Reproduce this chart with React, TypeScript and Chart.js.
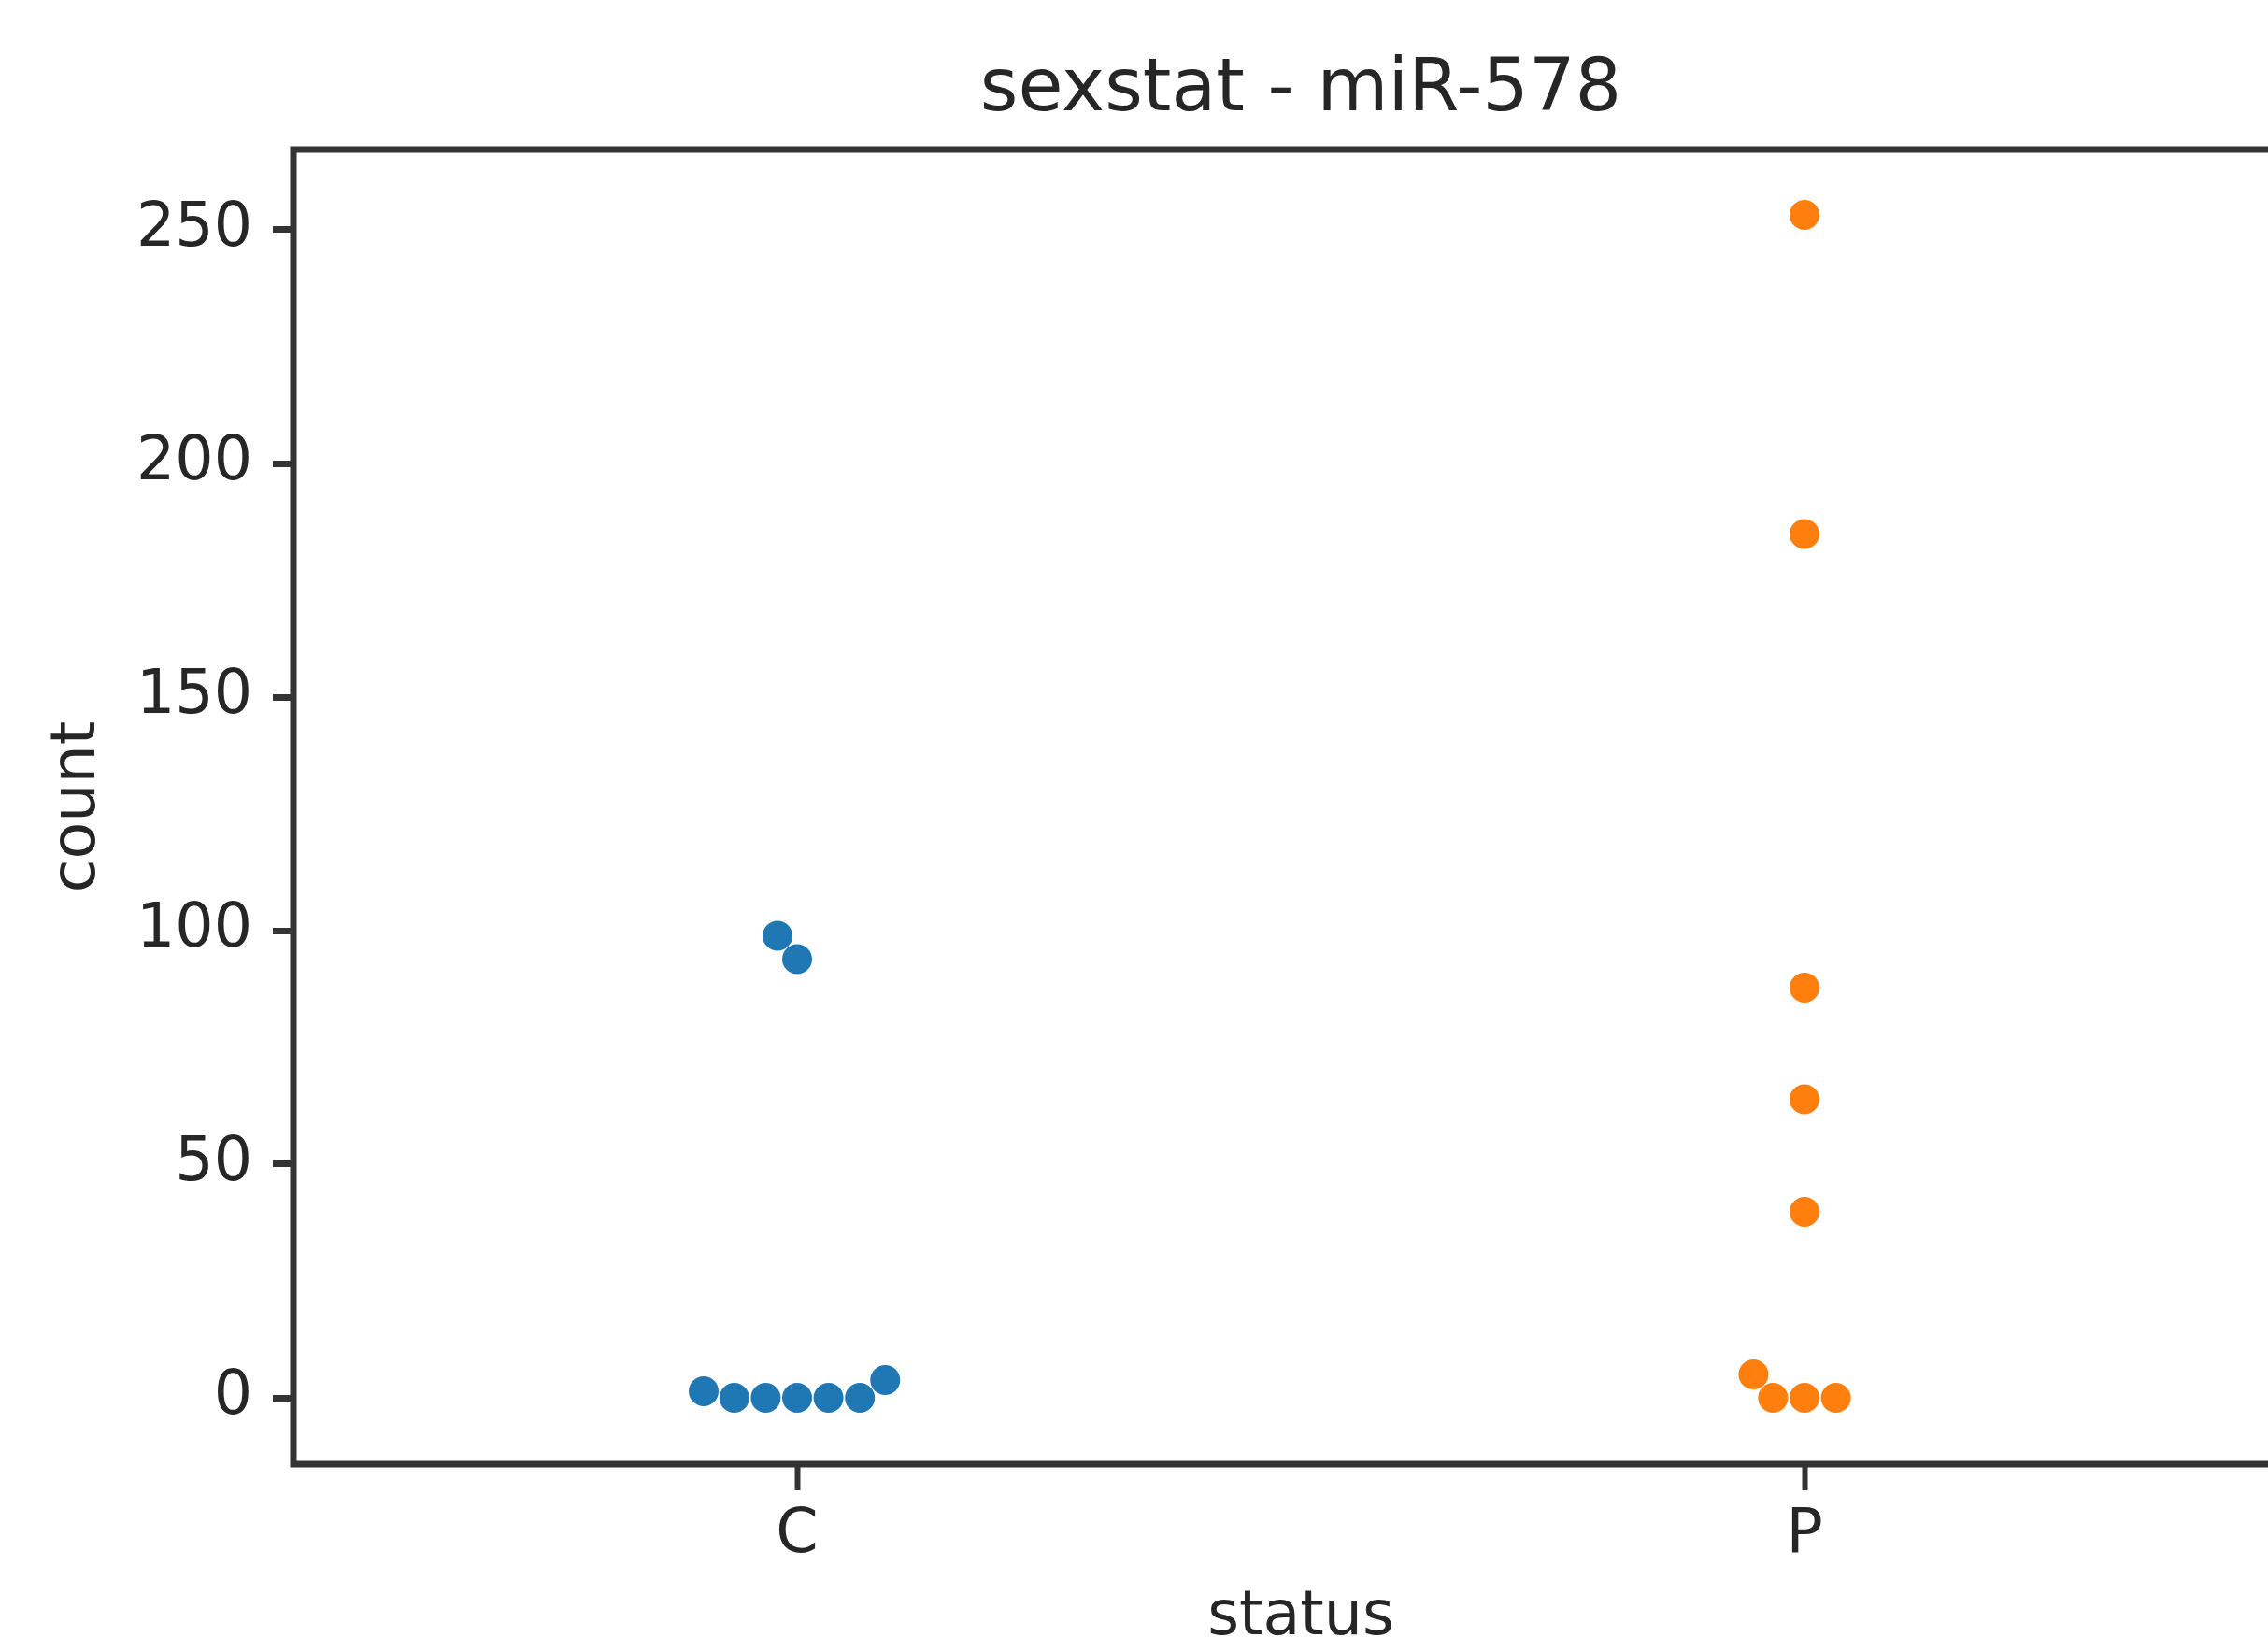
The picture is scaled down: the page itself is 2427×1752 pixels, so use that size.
import React, { useEffect, useRef } from 'react';
import Chart from 'chart.js/auto';

const TITLE = 'sexstat - miR-578';
const X_LABEL = 'status';
const Y_LABEL = 'count';
const CATEGORIES = ['C', 'P'];
const C_VALUES = [0, 0, 0, 0, 0, 1.4, 3.8, 93.9, 98.9];
const P_VALUES = [0, 0, 0, 5.0, 39.8, 63.9, 87.8, 184.9, 253.2];
const Y_TICKS = [0, 50, 100, 150, 200, 250];
const COLORS = ['#1f77b4', '#ff7f0e'];

const FONT = 'DejaVu Sans';
const TEXT = '#262626';
const SPINE = '#333333';
const RADIUS = 16;

// seaborn-style beeswarm, in pixel space (ties resolved to the left)
function beeswarm(ysPx: number[], midline: number, r: number): number[] {
  const us = ysPx.map((y) => -y);
  const order = us.map((_, i) => i).sort((a, b) => us[a] - us[b]);
  const placed: { x: number; u: number }[] = [];
  const xs: number[] = new Array(ysPx.length).fill(midline);
  for (const idx of order) {
    const u = us[idx];
    if (placed.length === 0) {
      placed.push({ x: midline, u });
      xs[idx] = midline;
      continue;
    }
    const neighbors: { x: number; u: number }[] = [];
    for (let k = placed.length - 1; k >= 0; k--) {
      if (u - placed[k].u < 2 * r) neighbors.push(placed[k]);
      else break;
    }
    const cands: number[] = [midline];
    for (const n of neighbors) {
      const dy = u - n.u;
      const dx = Math.sqrt(Math.max(4 * r * r - dy * dy, 0)) * 1.05;
      cands.push(n.x - dx, n.x + dx);
    }
    const sorted = cands
      .map((c, i) => ({ c, i }))
      .sort((a, b) => {
        const d = Math.abs(a.c - midline) - Math.abs(b.c - midline);
        if (Math.abs(d) > 1e-6) return d;
        if (Math.abs(a.c - b.c) > 1e-6) return a.c - b.c;
        return a.i - b.i;
      })
      .map((o) => o.c);
    let chosen = sorted[sorted.length - 1];
    for (const c of sorted) {
      let ok = true;
      for (const n of neighbors) {
        const dx = n.x - c;
        const dy = n.u - u;
        if (dx * dx + dy * dy < 4 * r * r - 1e-6) {
          ok = false;
          break;
        }
      }
      if (ok) {
        chosen = c;
        break;
      }
    }
    placed.push({ x: chosen, u });
    xs[idx] = chosen;
  }
  return xs;
}

const framePlugin = {
  id: 'frame',
  afterDatasetsDraw(chart: any) {
    const { ctx, chartArea } = chart;
    ctx.save();
    ctx.strokeStyle = SPINE;
    ctx.lineWidth = 7;
    ctx.strokeRect(chartArea.left, chartArea.top, chartArea.right - chartArea.left, chartArea.bottom - chartArea.top);
    ctx.restore();
  },
};

export default function App() {
  const ref = useRef<HTMLCanvasElement | null>(null);

  useEffect(() => {
    if (!ref.current) return;
    const series = [C_VALUES, P_VALUES];
    const chart = new Chart(ref.current, {
      type: 'scatter',
      data: {
        datasets: series.map((vals, ci) => ({
          label: CATEGORIES[ci],
          data: vals.map((v) => ({ x: ci, y: v })),
          backgroundColor: COLORS[ci],
          borderWidth: 0,
          pointRadius: RADIUS,
          pointHoverRadius: RADIUS,
        })),
      },
      plugins: [framePlugin],
      options: {
        animation: false,
        responsive: false,
        events: [],
        layout: { padding: { left: 0, right: 20, top: 0, bottom: 0 } },
        plugins: {
          legend: { display: false },
          tooltip: { enabled: false },
          title: {
            display: true,
            text: TITLE,
            fullSize: false,
            color: TEXT,
            font: { family: FONT, size: 78, weight: 'normal', lineHeight: 1.2 },
            padding: { top: 51, bottom: 15.4 },
          },
        },
        scales: {
          x: {
            type: 'linear',
            min: -0.5,
            max: 1.5,
            afterFit: (s: any) => {
              s.height = 233;
            },
            afterBuildTicks: (s: any) => {
              s.ticks = CATEGORIES.map((_, i) => ({ value: i }));
            },
            ticks: {
              color: TEXT,
              font: { family: FONT, size: 65 },
              padding: 10,
              maxRotation: 0,
              autoSkip: false,
              callback: (v: any) => CATEGORIES[Math.round(Number(v))] ?? '',
            },
            grid: {
              display: true,
              drawOnChartArea: false,
              drawTicks: true,
              tickLength: 28,
              tickWidth: 6,
              tickColor: SPINE,
              color: SPINE,
            },
            border: { display: false },
            title: {
              display: true,
              text: X_LABEL,
              color: TEXT,
              font: { family: FONT, size: 65, lineHeight: 1.2 },
              padding: { top: 0, bottom: 28.5 },
            },
          },
          y: {
            type: 'linear',
            min: -14.2,
            max: 267.2,
            afterFit: (s: any) => {
              s.width = 314;
            },
            afterBuildTicks: (s: any) => {
              s.ticks = Y_TICKS.map((v) => ({ value: v }));
            },
            ticks: {
              color: TEXT,
              font: { family: FONT, size: 65 },
              padding: 22,
              autoSkip: false,
              callback: (v: any) => String(v),
            },
            grid: {
              display: true,
              drawOnChartArea: false,
              drawTicks: true,
              tickLength: 22,
              tickWidth: 7,
              tickColor: SPINE,
              color: SPINE,
            },
            border: { display: false },
            title: {
              display: true,
              text: Y_LABEL,
              color: TEXT,
              font: { family: FONT, size: 65, lineHeight: 1.2 },
              padding: { top: 45, bottom: 0 },
            },
          },
        },
      },
    } as any);

    // second pass: swarm layout from the library's scales
    const xs = chart.scales.x;
    const ys = chart.scales.y;
    series.forEach((vals, ci) => {
      const mid = xs.getPixelForValue(ci);
      const pxY = vals.map((v) => ys.getPixelForValue(v));
      const pxX = beeswarm(pxY, mid, RADIUS);
      (chart.data.datasets[ci] as any).data = vals.map((v, i) => ({ x: xs.getValueForPixel(pxX[i]), y: v }));
    });
    chart.update('none');

    return () => chart.destroy();
  }, []);

  return (
    <div
      style={{
        position: 'fixed',
        left: 0,
        top: 0,
        width: 2427,
        height: 1752,
        overflow: 'hidden',
        background: '#ffffff',
      }}
    >
      <canvas ref={ref} width={2490} height={1800} style={{ display: 'block', width: 2490, height: 1800 }} />
    </div>
  );
}
